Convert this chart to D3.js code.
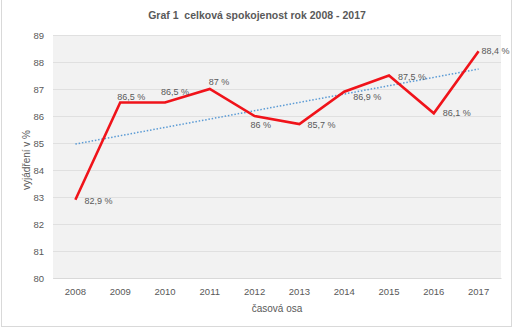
<!DOCTYPE html>
<html>
<head>
<meta charset="utf-8">
<title>Graf 1</title>
<script src="https://d3js.org/d3.v7.min.js"></script>
<style>
  body { margin: 0; background: #fff; }
  text { font-family: "Liberation Sans", "DejaVu Sans", sans-serif; fill: #595959; }
  .title { white-space: pre; }
</style>
</head>
<body>
<script>
// hodnoty z grafu
var years = ["2008", "2009", "2010", "2011", "2012", "2013", "2014", "2015", "2016", "2017"];
var values = [82.9, 86.5, 86.5, 87, 86, 85.7, 86.9, 87.5, 86.1, 88.4];
var labels = ["82,9 %", "86,5 %", "86,5 %", "87 %", "86 %", "85,7 %", "86,9 %", "87,5 %", "86,1 %", "88,4 %"];
var trendEnds = [84.96, 87.74];   // lineární spojnice trendu (2008, 2017)
var yTicks = [80, 81, 82, 83, 84, 85, 86, 87, 88, 89];

var width = 516, height = 329;
var plot = { left: 53, right: 501, top: 35, bottom: 278 };

var svg = d3.select("body").append("svg")
  .attr("width", width)
  .attr("height", height);

// ramecek grafu
svg.append("rect")
  .attr("x", 1.5).attr("y", -2)
  .attr("width", 510).attr("height", 328.5)
  .attr("fill", "#fff")
  .attr("stroke", "#d9d9d9");

var x = d3.scaleBand().domain(years).range([plot.left, plot.right]);
var y = d3.scaleLinear().domain([80, 89]).range([plot.bottom, plot.top]);
var cx = function(d) { return x(d) + x.bandwidth() / 2; };

svg.append("rect")
  .attr("x", plot.left).attr("y", plot.top)
  .attr("width", plot.right - plot.left).attr("height", plot.bottom - plot.top)
  .attr("fill", "#f2f2f2");

// mrizka
var yAxis = d3.axisLeft(y).tickValues(yTicks).tickSize(-(plot.right - plot.left)).tickPadding(9);
var gy = svg.append("g").attr("transform", "translate(" + plot.left + ",0)").call(yAxis);
gy.select(".domain").remove();
gy.selectAll("line").attr("stroke", "#e0e0e0").attr("shape-rendering", "crispEdges");
gy.selectAll("text").attr("font-size", 9.5).attr("fill", "#595959");

var xAxis = d3.axisBottom(x).tickSize(0).tickPadding(10);
var gx = svg.append("g").attr("transform", "translate(0," + plot.bottom + ")").call(xAxis);
gx.select(".domain").attr("stroke", "#d9d9d9");
gx.selectAll("text").attr("font-size", 9.5).attr("fill", "#595959");

// spojnice trendu
svg.append("line")
  .attr("x1", cx(years[0])).attr("y1", y(trendEnds[0]))
  .attr("x2", cx(years[years.length - 1])).attr("y2", y(trendEnds[1]))
  .attr("stroke", "#5b9bd5")
  .attr("stroke-width", 1.5)
  .attr("stroke-dasharray", "1.5 1.8");

var line = d3.line()
  .x(function(d, i) { return cx(years[i]); })
  .y(function(d) { return y(d); });

svg.append("path")
  .datum(values)
  .attr("d", line)
  .attr("fill", "none")
  .attr("stroke", "#f0131a")
  .attr("stroke-width", 2.6)
  .attr("stroke-linejoin", "miter");

// popisky dat - posun jako v Excelu
var offs = [[9, 4], [-3, -3], [-4, -8], [-1, -4], [-4, 12], [8, 4], [9, 8], [9, 4], [9, 3], [3, 3]];
svg.selectAll(".lbl").data(values).enter().append("text")
  .attr("class", "lbl")
  .attr("x", function(d, i) { return cx(years[i]) + offs[i][0]; })
  .attr("y", function(d, i) { return y(d) + offs[i][1]; })
  .attr("font-size", 9)
  .text(function(d, i) { return labels[i]; });

// titulky
svg.append("text")
  .attr("class", "title")
  .attr("x", 257).attr("y", 19)
  .attr("text-anchor", "middle")
  .attr("font-size", 10.5)
  .attr("font-weight", "bold")
  .text("Graf 1  celková spokojenost rok 2008 - 2017");

svg.append("text")
  .attr("transform", "translate(30,160) rotate(-90)")
  .attr("text-anchor", "middle")
  .attr("font-size", 10)
  .text("vyjádření v %");

svg.append("text")
  .attr("x", 277).attr("y", 312)
  .attr("text-anchor", "middle")
  .attr("font-size", 10)
  .text("časová osa");
</script>
</body>
</html>
